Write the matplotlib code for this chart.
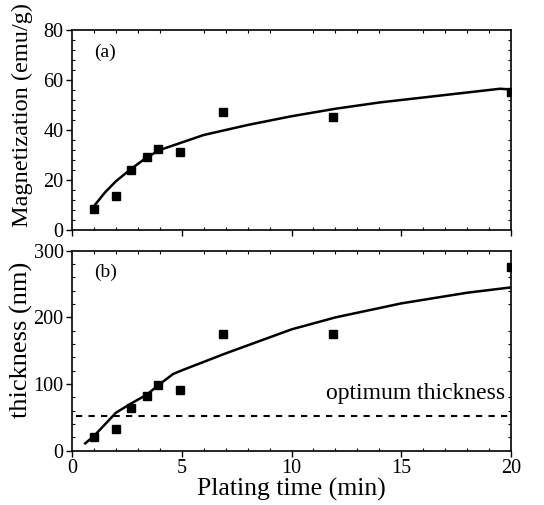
import matplotlib.pyplot as plt
from matplotlib.ticker import MultipleLocator

plt.rcParams['font.family'] = ['Liberation Serif', 'DejaVu Serif']

# measured points (plating time in min)
t_pts = [1, 2, 2.7, 3.4, 3.9, 4.9, 6.9, 11.9, 20]
mag_pts = [8.3, 13.7, 23.9, 29, 32.4, 31, 47.3, 45, 55]
thick_pts = [20, 32.5, 63.5, 82.5, 98, 90.5, 174.5, 175, 275]

# fitted curves
t_fit_a = [0.95, 1.5, 2, 2.7, 3.4, 4, 5, 6, 7, 8, 10, 12, 14, 16, 18, 19.5, 20]
mag_fit = [9, 15, 19.5, 24.5, 29, 32, 35, 38, 40, 42, 45.5, 48.5, 51, 53, 55, 56.5, 56.2]
t_fit_b = [0.6, 1, 2, 2.7, 3.4, 4, 4.6, 5, 7, 10, 12, 15, 18, 20]
thick_fit = [11, 22, 57, 71, 84, 100, 115, 120.5, 146, 182, 200, 221, 237, 245]

optimum = 52

fig = plt.figure(figsize=(5.44, 5.05), dpi=100)
ax1 = fig.add_axes([0.1324, 0.5446, 0.807, 0.396])
ax2 = fig.add_axes([0.1324, 0.1075, 0.807, 0.396])

ax1.plot(t_fit_a, mag_fit, color='black', lw=1.8)
ax1.plot(t_pts, mag_pts, 's', color='black', ms=6)
ax1.set_xlim(0, 20)
ax1.set_ylim(0, 80)
ax1.set_ylabel('Magnetization (emu/g)', fontsize=17.5)
ax1.yaxis.set_label_coords(-0.088, 0.575)
ax1.set_xticklabels([])
ax1.yaxis.set_major_locator(MultipleLocator(20))
ax1.yaxis.set_minor_locator(MultipleLocator(4))
ax1.text(1.0, 71, '(a)', fontsize=14, va='center')

ax2.plot(t_fit_b, thick_fit, color='black', lw=1.8)
ax2.plot(t_pts, thick_pts, 's', color='black', ms=6)
ax2.plot([0.2, 20], [optimum, optimum], color='black', lw=1.5, ls=(0, (3, 3)))
ax2.set_xlim(0, 20)
ax2.set_ylim(0, 300)
ax2.set_ylabel('thickness (nm)', fontsize=19)
ax2.yaxis.set_label_coords(-0.088, 0.553)
ax2.set_xlabel('Plating time (min)', fontsize=18.5, labelpad=0)
ax2.yaxis.set_major_locator(MultipleLocator(100))
ax2.yaxis.set_minor_locator(MultipleLocator(20))
ax2.text(1.0, 268, '(b)', fontsize=14, va='center')
ax2.text(19.75, 70, 'optimum thickness', fontsize=17, ha='right', va='bottom')

for ax in (ax1, ax2):
    ax.xaxis.set_major_locator(MultipleLocator(5))
    ax.xaxis.set_minor_locator(MultipleLocator(1))
    ax.tick_params(which='major', direction='out', length=4, width=1, labelsize=14.5, pad=2)
    ax.tick_params(which='minor', direction='in', length=2.5, width=0.8, top=True, right=True)
    for s in ax.spines.values():
        s.set_linewidth(1.2)

fig.savefig('out.png', dpi=100)
